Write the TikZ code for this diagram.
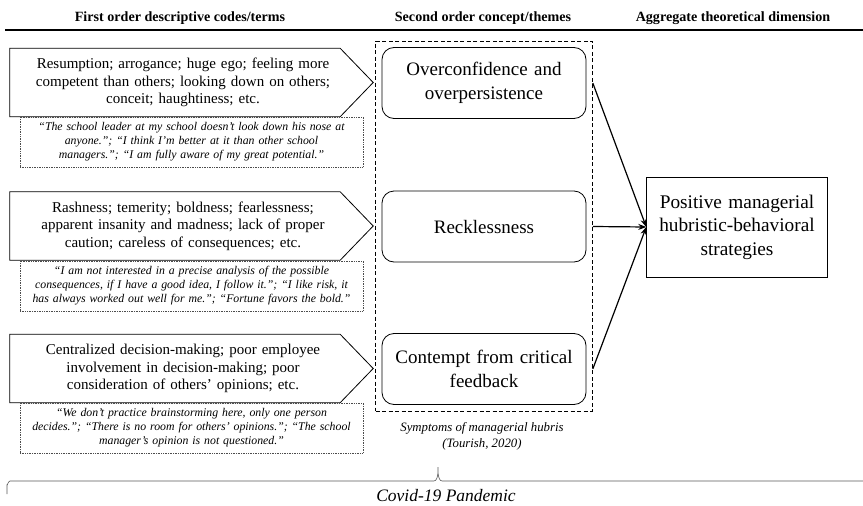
\documentclass[tikz,border=0pt]{standalone}
\usepackage{fontspec}
\setmainfont{Liberation Serif}
\usetikzlibrary{fit,arrows.meta}

\tikzstyle{header} =[font=\bfseries\fontsize{14.1}{16}\selectfont]
\tikzstyle{codes} =[rectangle, inner sep=0pt, minimum width=346pt, minimum height=68pt,
text width=330pt, align=center, font=\fontsize{15}{17.5}\selectfont]
\tikzstyle{codeline} =[line width=0.8pt]
\tikzstyle{voices} =[draw, densely dotted, line width=0.7pt, draw=black!70,
minimum width=343pt, minimum height=50pt, text width=338pt, align=center,
inner sep=0pt, font=\itshape\fontsize{11.8}{14}\selectfont]
\tikzstyle{theme} =[draw, rectangle, rounded corners=12pt, line width=0.8pt,
minimum width=204pt, minimum height=71pt, text width=195pt, align=center,
font=\fontsize{19}{23.5}\selectfont]
\tikzstyle{dimension} =[draw, rectangle, line width=0.8pt,
minimum width=178pt, minimum height=100pt, text width=174pt, align=center,
font=\fontsize{19.3}{23.5}\selectfont]
\tikzstyle{symptoms} =[draw, dashed, dash pattern=on 4pt off 2.5pt,
line width=0.8pt, inner sep=6pt]
\tikzstyle{link} =[line width=1.2pt, -{Stealth[length=8pt,width=6pt]}]

\begin{document}
\begin{tikzpicture}[x=1pt, y=-1pt]
	\useasboundingbox (0,0) rectangle (863,506);
	\node[header] (h1) at (180,18) {First order descriptive codes/terms};
	\node[header] (h2) at (483,18) {Second order concept/themes};
	\node[header] (h3) at (733,18) {Aggregate theoretical dimension};
	\draw[line width=1.4pt] (5,30) -- (863,30);

	\node[codes] (c1) at (183,82.5) {Resumption; arrogance; huge ego; feeling more\\
		competent than others; looking down on others;\\
		conceit; haughtiness; etc.};
	\node[codes] (c2) at (183,226) {Rashness; temerity; boldness; fearlessness;\\
		apparent insanity and madness; lack of proper\\
		caution; careless of consequences; etc.};
	\node[codes] (c3) at (183,368.5) {Centralized decision-making; poor employee\\
		involvement in decision-making; poor\\
		consideration of others' opinions; etc.};
	\foreach \c in {c1,c2,c3}
		\draw[codeline] (\c.north west) -- ([xshift=-16pt]\c.north east) -- ([xshift=17pt]\c.east)
		-- ([xshift=-16pt]\c.south east) -- (\c.south west) -- cycle;

	\node[voices] (q1) at (191.5,142) {``The school leader at my school doesn't look down his nose at\\
		anyone.''; ``I think I'm better at it than other school\\
		managers.''; ``I am fully aware of my great potential.''};
	\node[voices] (q2) at (191.5,286) {``I am not interested in a precise analysis of the possible\\
		consequences, if I have a good idea, I follow it.''; ``I like risk, it\\
		has always worked out well for me.''; ``Fortune favors the bold.''};
	\node[voices] (q3) at (191.5,428) {``We don't practice brainstorming here, only one person\\
		decides.''; ``There is no room for others' opinions.''; ``The school\\
		manager's opinion is not questioned.''};

	\node[theme] (t1) at (484,83) {Overconfidence and\\overpersistence};
	\node[theme] (t2) at (484,226.5) {Recklessness};
	\node[theme] (t3) at (484,369) {Contempt from critical\\feedback};
	\node[symptoms, fit=(t1)(t2)(t3)] (sym) {};
	\node[font=\itshape\fontsize{12.8}{16}\selectfont, align=center] (cap) at (482,436)
	{Symptoms of managerial hubris\\(Tourish, 2020)};

	\node[dimension] (d) at (737,227) {Positive managerial\\hubristic-behavioral\\strategies};

	\draw[link] (t1.east -| sym.east) -- (d.west);
	\draw[link] (t2.east -| sym.east) -- (d.west);
	\draw[link] (t3.east -| sym.east) -- (d.west);

	\draw[line width=0.6pt, black!65] (7,494) -- (7,485) to[out=-90,in=180] (10,481)
	-- (434,481) to[out=0,in=90] (438,468) to[out=90,in=180] (442,481) -- (870,481);
	\node[font=\itshape\fontsize{17.5}{20}\selectfont] (covid) at (446,496) {Covid-19 Pandemic};
\end{tikzpicture}
\end{document}
